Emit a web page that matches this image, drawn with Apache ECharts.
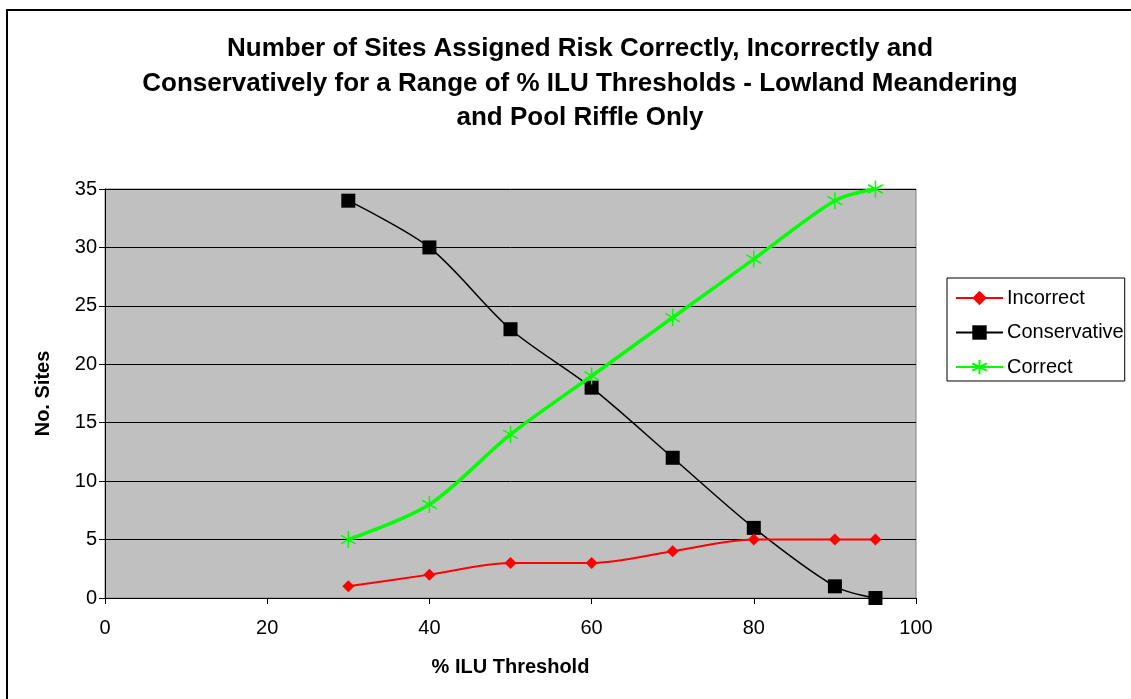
<!DOCTYPE html>
<html>
<head>
<meta charset="utf-8">
<script src="https://cdn.jsdelivr.net/npm/echarts@6/dist/echarts.min.js"></script>
<style>html,body{margin:0;padding:0;background:#fff;}#c{width:1131px;height:699px;}</style>
</head>
<body>
<div id="c"></div>
<script>
const thresholds = [30, 40, 50, 60, 70, 80, 90, 95];
const incorrect = [1, 2, 3, 3, 4, 5, 5, 5];
const conservative = [34, 30, 23, 18, 12, 6, 1, 0];
const correct = [5, 8, 14, 19, 24, 29, 34, 35];
const xTicks = [0, 20, 40, 60, 80, 100];
const yTicks = [0, 5, 10, 15, 20, 25, 30, 35];

const pairs = arr => thresholds.map((x, i) => [x, arr[i]]);
const font = '"Liberation Sans", Arial, sans-serif';
const starPath = 'path://M0,-10L0,10M-8.66,-5L8.66,5M-8.66,5L8.66,-5';

const chart = echarts.init(document.getElementById('c'), null, {renderer: 'canvas'});
chart.setOption({
  animation: false,
  backgroundColor: '#fff',
  textStyle: {fontFamily: font},
  title: {
    text: 'Number of Sites Assigned Risk Correctly, Incorrectly and\nConservatively for a Range of % ILU Thresholds - Lowland Meandering\nand Pool Riffle Only',
    left: 575, top: 27, textAlign: 'center',
    textStyle: {fontSize: 26, fontWeight: 'bold', color: '#000', lineHeight: 34.5, fontFamily: font}
  },
  graphic: [{
    type: 'rect', shape: {x: 7, y: 10, width: 1300, height: 900},
    style: {fill: 'none', stroke: '#000', lineWidth: 2}, silent: true, z: 100
  }],
  legend: {
    orient: 'vertical', left: 947, top: 278,
    padding: [10, 1, 4, 8], itemGap: 14.5, itemWidth: 47, itemHeight: 18,
    borderColor: '#000', borderWidth: 1, backgroundColor: '#fff',
    textStyle: {fontSize: 20, color: '#000', fontFamily: font, padding: [0, 0, 0, -1]},
    data: ['Incorrect', 'Conservative', 'Correct']
  },
  grid: {
    left: 105, top: 189, right: 215, bottom: 101,
    show: true, backgroundColor: '#c0c0c0', borderColor: '#808080', borderWidth: 1
  },
  xAxis: {
    type: 'value', min: 0, max: 100, interval: 20,
    name: '% ILU Threshold', nameLocation: 'middle', nameGap: 59,
    nameTextStyle: {fontSize: 20, fontWeight: 'bold', color: '#000', fontFamily: font},
    axisLine: {show: true, lineStyle: {color: '#000', width: 1}},
    axisTick: {show: true, length: 6, lineStyle: {color: '#000'}},
    axisLabel: {fontSize: 20, color: '#000', margin: 20, fontFamily: font,
      formatter: v => xTicks.includes(v) ? String(v) : ''},
    splitLine: {show: false}
  },
  yAxis: {
    type: 'value', min: 0, max: 35, interval: 5,
    name: 'No. Sites', nameLocation: 'middle', nameGap: 52, nameRotate: 90,
    nameTextStyle: {fontSize: 20, fontWeight: 'bold', color: '#000', fontFamily: font},
    axisLine: {show: true, lineStyle: {color: '#000', width: 1}},
    axisTick: {show: true, length: 6, lineStyle: {color: '#000'}},
    axisLabel: {fontSize: 20, color: '#000', margin: 8, fontFamily: font,
      formatter: v => yTicks.includes(v) ? String(v) : ''},
    splitLine: {show: true, lineStyle: {color: '#000', width: 1}}
  },
  series: [
    {
      name: 'Incorrect', type: 'line', data: pairs(incorrect), smooth: 0.3,
      symbol: 'diamond', symbolSize: 12,
      lineStyle: {color: '#ff0000', width: 2},
      itemStyle: {color: '#ff0000'}, z: 3
    },
    {
      name: 'Conservative', type: 'line', data: pairs(conservative), smooth: 0.3,
      symbol: 'rect', symbolSize: 14,
      lineStyle: {color: '#000', width: 1.5},
      itemStyle: {color: '#000'}, z: 2
    },
    {
      name: 'Correct', type: 'line', data: pairs(correct), smooth: 0.3,
      symbol: starPath, symbolSize: 17, symbolKeepAspect: true,
      lineStyle: {color: '#00ff00', width: 3.5},
      itemStyle: {color: '#00ff00', borderColor: '#00ff00', borderWidth: 1.5}, z: 4
    }
  ]
});
</script>
</body>
</html>
